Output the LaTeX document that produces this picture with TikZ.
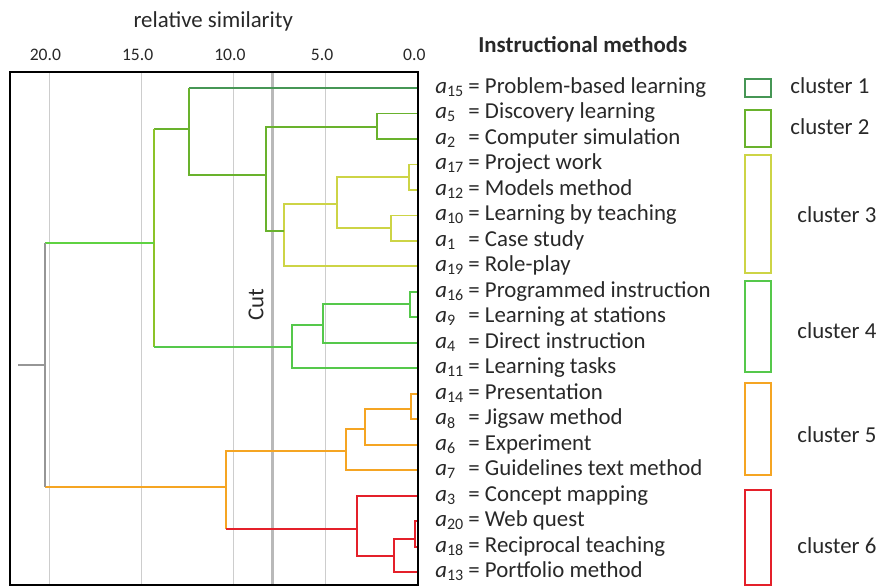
\documentclass[tikz,border=0pt]{standalone}
\usepackage{fontspec}
\setmainfont{Carlito}
\usepackage{xcolor}

\definecolor{textgray}{RGB}{40,40,40}
\definecolor{gridgray}{RGB}{205,205,205}
\definecolor{cutgray}{RGB}{185,185,185}
\definecolor{rootgray}{RGB}{150,150,150}
\definecolor{clA}{RGB}{70,150,85}
\definecolor{clB}{RGB}{105,178,45}
\definecolor{clLime}{RGB}{140,195,40}
\definecolor{clC}{RGB}{205,212,70}
\definecolor{clD}{RGB}{85,200,75}
\definecolor{clTop}{RGB}{95,210,65}
\definecolor{clE}{RGB}{245,165,35}
\definecolor{clF}{RGB}{228,32,42}

\begin{document}
\begin{tikzpicture}[x=0.02cm, y=-0.02cm,
	link/.style={line width=1.1pt},
	method/.style={anchor=west, inner sep=0pt, text=textgray, text height=9pt, text depth=3pt, font=\fontsize{13}{15}\selectfont},
	ticklabel/.style={inner sep=0pt, text=textgray, font=\fontsize{10}{12}\selectfont},
	legbox/.style={line width=1.1pt}]
	\useasboundingbox (0,0) rectangle (878,587);

	% dendrogram: x = relative similarity, y = row of the method
	\begin{scope}[shift={(418,88)}, x=-0.369cm, y=-0.51cm]
		\def\ytop{-0.63}
		\def\ybot{19.5}
		\foreach \d in {5,10,15,20} {
			\draw[gridgray, line width=0.6pt] (\d,\ytop) -- (\d,\ybot);
		}
		\foreach \d/\t in {0/0.0, 5/5.0, 10/10.0, 15/15.0, 20/20.0} {
			\node[ticklabel] (tick\d) at (\d+0.2,-1.3) {\t};
		}
		\node[ticklabel, font=\fontsize{13}{15}\selectfont] (axis) at (11.1,-2.6) {relative similarity};

		% cut
		\draw[cutgray, line width=1.8pt] (7.9,\ytop) -- (7.9,\ybot);
		\node[rotate=90, text=textgray, font=\fontsize{13}{15}\selectfont] (cut) at (8.78,8.5) {Cut};

		% cluster 3
		\draw[link, clC] (0,3) -| (0.5,4) -- (0,4);
		\draw[link, clC] (0,5) -| (1.46,6) -- (0,6);
		\draw[link, clC] (0.5,3.5) -| (4.39,5.5) -- (1.46,5.5);
		\draw[link, clC] (4.39,4.55) -| (7.26,7) -- (0,7);
		% cluster 2 and 1
		\draw[link, clB] (0,1) -| (2.22,2) -- (0,2);
		\draw[link, clB] (2.22,1.53) -| (8.24,5.6) -- (7.26,5.6);
		\draw[link, clA] (0,0) -- (12.4,0);
		\draw[link, clB] (12.4,0) -- (12.4,3.4) -- (8.24,3.4);
		% cluster 4
		\draw[link, clD] (0,8) -| (0.43,9) -- (0,9);
		\draw[link, clD] (0.43,8.47) -| (5.15,10) -- (0,10);
		\draw[link, clD] (5.15,9.3) -| (6.83,11) -- (0,11);
		\draw[link, clB] (12.4,1.6) -- (14.3,1.6);
		\draw[link, clLime] (14.3,1.6) -- (14.3,10.16);
		\draw[link, clD] (14.3,10.16) -- (6.83,10.16);
		% cluster 5
		\draw[link, clE] (0,12) -| (0.38,13) -- (0,13);
		\draw[link, clE] (0.38,12.6) -| (2.87,14) -- (0,14);
		\draw[link, clE] (2.87,13.37) -| (3.9,15) -- (0,15);
		% cluster 6
		\draw[link, clF] (0,17) -| (0.16,18) -- (0,18);
		\draw[link, clF] (0.16,17.69) -| (1.3,19) -- (0,19);
		\draw[link, clF] (0,16) -| (3.3,18.35) -- (1.3,18.35);
		\draw[link, clE] (3.9,14.24) -| (10.4,17.3);
		\draw[link, clF] (10.4,17.3) -- (3.3,17.3);
		% root
		\draw[link, clTop] (14.3,6.08) -- (20.2,6.08);
		\draw[link, clE] (10.4,15.65) -- (20.2,15.65);
		\draw[link, rootgray] (20.2,6.08) -- (20.2,15.65);
		\draw[link, rootgray] (20.2,10.86) -- (21.7,10.86);

		% frame
		\draw[line width=1.2pt] (22.1,\ytop) rectangle (0,\ybot);

		% methods
		\foreach \i/\n/\t in {0/15/Problem-based learning, 1/5/Discovery learning,
			2/2/Computer simulation, 3/17/Project work, 4/12/Models method,
			5/10/Learning by teaching, 6/1/Case study, 7/19/Role-play,
			8/16/Programmed instruction, 9/9/Learning at stations,
			10/4/Direct instruction, 11/11/Learning tasks, 12/14/Presentation,
			13/8/Jigsaw method, 14/6/Experiment, 15/7/Guidelines text method,
			16/3/Concept mapping, 17/20/Web quest, 18/18/Reciprocal teaching,
			19/13/Portfolio method} {
			\node[method] (m\n) at (-0.92,\i) {\makebox[1.45em][l]{\textit{a}\textsubscript{\n}}= \t};
		}
	\end{scope}

	\node[method, font=\fontsize{13}{15}\selectfont\bfseries] (title) at (478,47) {Instructional methods};

	% legend
	\foreach \k/\c/\ya/\yb/\lx/\ly in {1/clA/79/97/790/88, 2/clB/110/147/790/129,
		3/clC/155/273/797/217, 4/clD/281/372/797/333, 5/clE/383/475/797/437,
		6/clF/490/585/797/548} {
		\draw[legbox, \c] (745,\ya) rectangle (771,\yb);
		\node[method] (k\k) at (\lx,\ly) {cluster \k};
	}
\end{tikzpicture}
\end{document}
